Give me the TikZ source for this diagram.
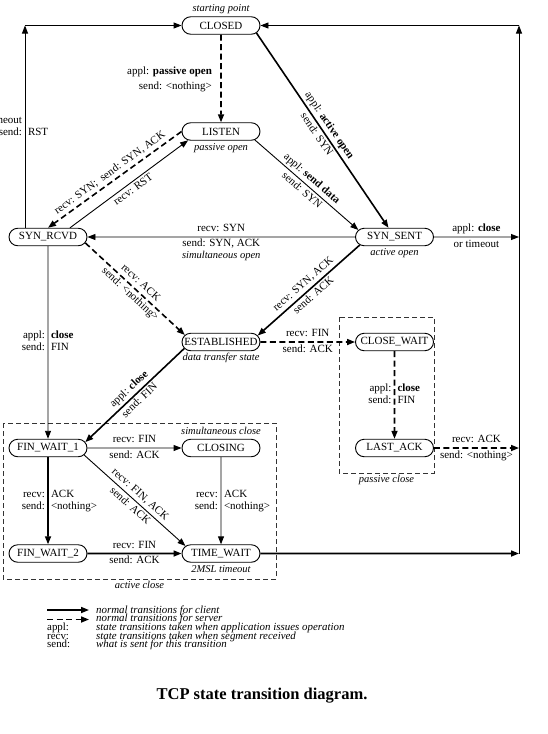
\documentclass[tikz,border=0pt]{standalone}
\usepackage{fontspec}
\setmainfont{Liberation Serif}
\usetikzlibrary{arrows.meta,shapes.misc}

\newcommand{\lblfont}{\fontsize{11}{12}\selectfont}
\newcommand{\notefont}{\fontsize{10.5}{12}\selectfont\itshape}
% two-column label whose columns sit either side of a vertical connector
\newcommand{\splitlabel}[5]{%
  \node[anchor=east, align=right, inner sep=0pt] (#1-l) at ([xshift=-2.8pt]#1) {\strut#2\\\strut#4};
  \node[anchor=west, align=left, inner sep=0pt] (#1-r) at ([xshift=2.8pt]#1) {\strut#3\\\strut#5};}

\begin{document}
\begin{tikzpicture}[x=1pt, y=-1pt, font=\lblfont,
  state/.style={rounded rectangle, draw, line width=0.9pt, minimum width=78pt,
                minimum height=17.5pt, inner sep=0pt},
  arrowed/.style={-{Triangle[length=8pt,width=6pt]}},
  client/.style={arrowed, line width=1.6pt},
  server/.style={arrowed, line width=1.6pt, dash pattern=on 6pt off 3.5pt},
  other/.style={arrowed, line width=0.9pt},
  above lbl/.style={above, inner sep=1pt, execute at begin node=\strut},
  below lbl/.style={below, inner sep=1pt, outer sep=0.8pt, execute at begin node=\strut},
  note/.style={font=\notefont, inner sep=1pt, execute at begin node=\strut},
  groupbox/.style={draw=black!80, line width=0.9pt, dash pattern=on 5pt off 3pt},
  legendtext/.style={font=\fontsize{10.9}{10}\selectfont\itshape, anchor=base west, inner sep=0pt},
  legendkey/.style={font=\fontsize{10.9}{10}\selectfont, anchor=base west, inner sep=0pt},
]
\useasboundingbox (0,0) rectangle (547,734);

% ---- states
\node[state] (closed) at (221,25.5)  {CLOSED};
\node[state] (listen) at (221,131.5) {LISTEN};
\node[state] (sr)     at (48,237)    {SYN\_RCVD};
\node[state] (ss)     at (394.5,237) {SYN\_SENT};
\node[state] (est)    at (221,342)   {ESTABLISHED};
\node[state] (cw)     at (394.5,342) {CLOSE\_WAIT};
\node[state] (la)     at (394.5,448) {LAST\_ACK};
\node[state] (fw1)    at (48,448)    {FIN\_WAIT\_1};
\node[state] (cl)     at (221,448)   {CLOSING};
\node[state] (fw2)    at (48,553.5)  {FIN\_WAIT\_2};
\node[state] (tw)     at (221,553.5) {TIME\_WAIT};

% ---- annotations next to states
\node[note, above] (n-start) at (closed.north) {starting point};
\node[note, below] (n-popen) at (listen.south) {passive open};
\node[note, below] (n-aopen) at (ss.south) {active open};
\node[note, below] (n-data)  at (est.south) {data transfer state};
\node[note, above] (n-sclose) at (cl.north) {simultaneous close};
\node[note, below] (n-msl)   at (tw.south) {2MSL timeout};

% ---- close groups
\draw[groupbox] (3,423) rectangle (276,579);
\node[note, below] (n-aclose) at (139.5,579) {active close};
\draw[groupbox] (339,317) rectangle (434,473);
\node[note, below] (n-pclose) at (386.5,473) {passive close};

% ---- rails
\coordinate (rt)  at (519,25.5);
\coordinate (rss) at (519,237);
\coordinate (rla) at (519,448);
\coordinate (rtw) at (519,553.5);
\coordinate (lt)  at (25,25.5);
\coordinate (lsr) at ([xshift=-23pt]sr.north);

% ---- transitions
\draw[server] (closed) -- node[midway, anchor=east, align=right, xshift=-5pt, yshift=-1.3pt,
    font=\fontsize{11}{15}\selectfont] (l-popen)
    {appl: \textbf{passive open}\\send: \textless nothing\textgreater} (listen);

\draw[client] (closed.-12) --
    node[midway, sloped, above lbl] (l-ao1) {appl: \textbf{active open}}
    node[midway, sloped, below lbl] (l-ao2) {send: SYN} ([xshift=-6pt]ss.north);

\draw[server] (listen.west) --
    node[midway, sloped, above lbl] (l-syn) {recv: SYN;\ \ send: SYN, ACK} (sr.north);

\draw[other] ([xshift=22pt]sr.north) --
    node[midway, sloped, below lbl] (l-rst) {recv: RST} (listen.195);

\draw[other] (listen.-14) --
    node[midway, sloped, above lbl] (l-sd1) {appl: \textbf{send data}}
    node[midway, sloped, below lbl] (l-sd2) {send: SYN} (ss.169);

\draw[other] (ss) --
    node[midway, above lbl] (l-so1) {recv: SYN}
    node[midway, below lbl, align=center] (l-so2) {send: SYN, ACK\\{\notefont simultaneous open}} (sr);

\draw[other] (ss) --
    node[midway, above lbl] (l-ssc1) {appl: \textbf{close}}
    node[midway, below lbl] (l-ssc2) {or timeout} (rss);

\draw[server] (sr.-9) --
    node[midway, sloped, above lbl] (l-ack1) {recv: ACK}
    node[midway, sloped, below lbl] (l-ack2) {send: \textless nothing\textgreater} (est.169);

\draw[client] (ss.193) --
    node[midway, sloped, above lbl] (l-sa1) {recv: SYN, ACK}
    node[midway, sloped, below lbl] (l-sa2) {send: ACK} (est.10);

\draw[server] (est) --
    node[midway, above lbl] (l-fin1) {recv: FIN}
    node[midway, below lbl] (l-fin2) {send: ACK} (cw);

\draw[server] (cw) -- coordinate[midway] (m-cw) (la);
\splitlabel{m-cw}{appl:}{\textbf{close}}{send:}{FIN}

\draw[server] (la) --
    node[midway, above lbl] (l-la1) {recv: ACK}
    node[midway, below lbl] (l-la2) {send: \textless nothing\textgreater} (rla);

\draw[client] (est.190) --
    node[midway, sloped, above lbl] (l-ec1) {appl: \textbf{close}}
    node[midway, sloped, below lbl] (l-ec2) {send: FIN} (fw1.9);

\draw[other] (sr) -- coordinate[midway] (m-sr) (fw1);
\splitlabel{m-sr}{appl:}{\textbf{close}}{send:}{FIN}

\draw[other] (fw1) --
    node[midway, above lbl] (l-fc1) {recv: FIN}
    node[midway, below lbl] (l-fc2) {send: ACK} (cl);

\draw[client] (fw1) -- coordinate[midway] (m-fw) (fw2);
\splitlabel{m-fw}{recv:}{ACK}{send:}{\textless nothing\textgreater}

\draw[other] (fw1.-11) --
    node[midway, sloped, above lbl] (l-ft1) {recv: FIN, ACK}
    node[midway, sloped, below lbl] (l-ft2) {send: ACK} (tw.168);

\draw[other] (cl) -- coordinate[midway] (m-cl) (tw);
\splitlabel{m-cl}{recv:}{ACK}{send:}{\textless nothing\textgreater}

\draw[client] (fw2) --
    node[midway, above lbl] (l-f21) {recv: FIN}
    node[midway, below lbl] (l-f22) {send: ACK} (tw);

\draw[client] (tw) -- (rtw);

% right rail back to CLOSED
\draw[other] (rtw) -- (rt);
\draw[other] (rt) -- (closed);

% SYN_RCVD timeout back to CLOSED
\draw[other] (lsr) -- coordinate[midway] (m-to) (lt);
\draw[other] (lt) -- (closed);
\splitlabel{m-to}{timeout}{}{send:}{RST}

% ---- legend
\coordinate (lg1a) at (47,610);   \coordinate (lg1b) at (89,610);
\coordinate (lg2a) at (47,619.5); \coordinate (lg2b) at (89,619.5);
\draw[client] (lg1a) -- (lg1b);
\draw[server] (lg2a) -- (lg2b);
\node[legendtext] (lg-t1) at (96,613)   {normal transitions for client};
\node[legendtext] (lg-t2) at (96,621.7) {normal transitions for server};
\node[legendtext] (lg-t3) at (96,630)   {state transitions taken when application issues operation};
\node[legendtext] (lg-t4) at (96,639.3) {state transitions taken when segment received};
\node[legendtext] (lg-t5) at (96,647.7) {what is sent for this transition};
\node[legendkey] (lg-k3) at (47,630)   {appl:};
\node[legendkey] (lg-k4) at (47,639.3) {recv:};
\node[legendkey] (lg-k5) at (47,647.7) {send:};

% ---- caption
\node[font=\bfseries\fontsize{16.5}{19}\selectfont, anchor=base] (title) at (262,699)
  {TCP state transition diagram.};
\end{tikzpicture}
\end{document}
